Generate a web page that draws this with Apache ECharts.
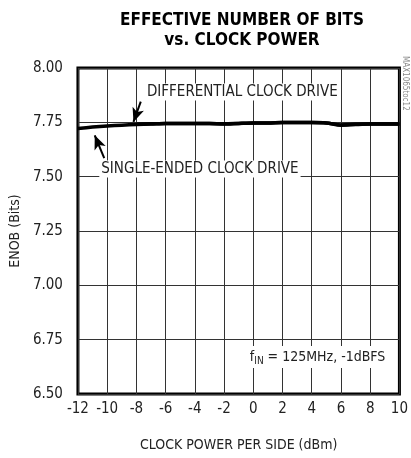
<!DOCTYPE html>
<html>
<head>
<meta charset="utf-8">
<script src="https://cdn.jsdelivr.net/npm/echarts@6/dist/echarts.min.js"></script>
<style>
  html, body { margin: 0; padding: 0; background: #fff; }
  #chart { width: 411px; height: 458px; }
</style>
</head>
<body>
<div id="chart"></div>
<script>
// clock power per side (dBm)
var clockPower = [-12, -11, -10, -9, -8, -7, -6, -5, -4, -3, -2, -1, 0, 1, 2, 3, 4, 5, 6, 7, 8, 9, 10];
// ENOB, single-ended clock drive
var enobSingle = [7.722, 7.728, 7.733, 7.737, 7.740, 7.742, 7.745, 7.745, 7.745, 7.745, 7.742, 7.745, 7.747,
                  7.747, 7.749, 7.749, 7.749, 7.747, 7.737, 7.740, 7.742, 7.742, 7.742];
// ENOB, differential clock drive
var enobDiff = [null, null, null, null, 7.741, 7.743, 7.745, 7.745, 7.745, 7.745, 7.743, 7.745, 7.747,
                7.747, 7.749, 7.749, 7.749, 7.747, 7.738, 7.741, 7.742, 7.742, 7.742];
var xTicks = [-12, 10, 2];     // min, max, step
var yTicks = [6.5, 8.0, 0.25];

var FONT = "'Liberation Sans Narrow', 'DejaVu Sans Condensed', 'Liberation Sans', sans-serif";

function pairs(xs, ys) {
  var out = [];
  for (var i = 0; i < xs.length; i++) {
    if (ys[i] != null) out.push([xs[i], ys[i]]);
  }
  return out;
}

var chart = echarts.init(document.getElementById('chart'));

var option = {
  animation: false,
  title: {
    text: 'EFFECTIVE NUMBER OF BITS\nvs. CLOCK POWER',
    left: 237,
    top: 6,
    textAlign: 'center',
    textStyle: { fontFamily: FONT, fontWeight: 'bold', fontSize: 17, lineHeight: 20, color: '#000' }
  },
  grid: { left: 75, right: 10, top: 68, bottom: 64, show: true, borderColor: '#000', borderWidth: 3, backgroundColor: 'transparent' },
  xAxis: {
    type: 'value',
    min: xTicks[0], max: xTicks[1], interval: xTicks[2],
    name: 'CLOCK POWER PER SIDE (dBm)',
    nameLocation: 'middle',
    nameGap: 44,
    nameTextStyle: { fontFamily: FONT, fontSize: 14, color: '#222' },
    axisLine: { show: false },
    axisTick: { show: false },
    axisLabel: { fontFamily: FONT, fontSize: 15, color: '#222', margin: 8 },
    splitLine: { show: true, lineStyle: { color: '#333', width: 1 } }
  },
  yAxis: {
    type: 'value',
    min: yTicks[0], max: yTicks[1], interval: yTicks[2],
    name: 'ENOB (Bits)',
    nameLocation: 'middle',
    nameGap: 53,
    nameTextStyle: { fontFamily: FONT, fontSize: 14, color: '#222' },
    axisLine: { show: false },
    axisTick: { show: false },
    axisLabel: { fontFamily: FONT, fontSize: 15, color: '#222', margin: 15, formatter: function (v) { return v.toFixed(2); } },
    splitLine: { show: true, lineStyle: { color: '#333', width: 1 } }
  },
  series: [
    {
      name: 'SINGLE-ENDED CLOCK DRIVE',
      type: 'line',
      data: pairs(clockPower, enobSingle),
      smooth: 0.3,
      showSymbol: false,
      lineStyle: { color: '#000', width: 3.5 },
      z: 5,
      markPoint: {
        symbol: 'rect', symbolSize: 0, silent: true,
        data: [
          { coord: [-0.75, 7.89], label: { show: true, formatter: 'DIFFERENTIAL CLOCK DRIVE', fontFamily: FONT, fontSize: 15, color: '#222', backgroundColor: '#fff', padding: [1, 2] } },
          { coord: [-3.65, 7.535], label: { show: true, formatter: 'SINGLE-ENDED CLOCK DRIVE', fontFamily: FONT, fontSize: 15, color: '#222', backgroundColor: '#fff', padding: [1, 2] } },
          { coord: [4.4, 6.67], label: { show: true, formatter: '{f|f}{s|IN}{f| = 125MHz, -1dBFS}', backgroundColor: '#fff', padding: [2, 3],
              rich: { f: { fontFamily: FONT, fontSize: 14, color: '#222' }, s: { fontFamily: FONT, fontSize: 10, color: '#222', padding: [8, 0, 0, 0] } } } }
        ]
      },
      markLine: {
        silent: true,
        symbol: ['none', 'arrow'],
        symbolSize: [9, 14],
        lineStyle: { color: '#000', width: 2, type: 'solid' },
        label: { show: false },
        data: [
          [{ coord: [-7.7, 7.845] }, { coord: [-8.2, 7.752] }],
          [{ coord: [-10.2, 7.585] }, { coord: [-10.85, 7.69] }]
        ]
      }
    },
    {
      name: 'DIFFERENTIAL CLOCK DRIVE',
      type: 'line',
      data: pairs(clockPower, enobDiff),
      smooth: 0.3,
      showSymbol: false,
      lineStyle: { color: '#000', width: 3.5 },
      z: 5
    }
  ],
  graphic: [
    {
      type: 'text',
      left: 401, top: 56,
      rotation: -Math.PI / 2,
      style: { text: 'MAX1065toc12', fontFamily: FONT, fontSize: 8, fill: '#888' }
    }
  ]
};

chart.setOption(option);
window.addEventListener('resize', function () { chart.resize(); });
</script>
</body>
</html>
